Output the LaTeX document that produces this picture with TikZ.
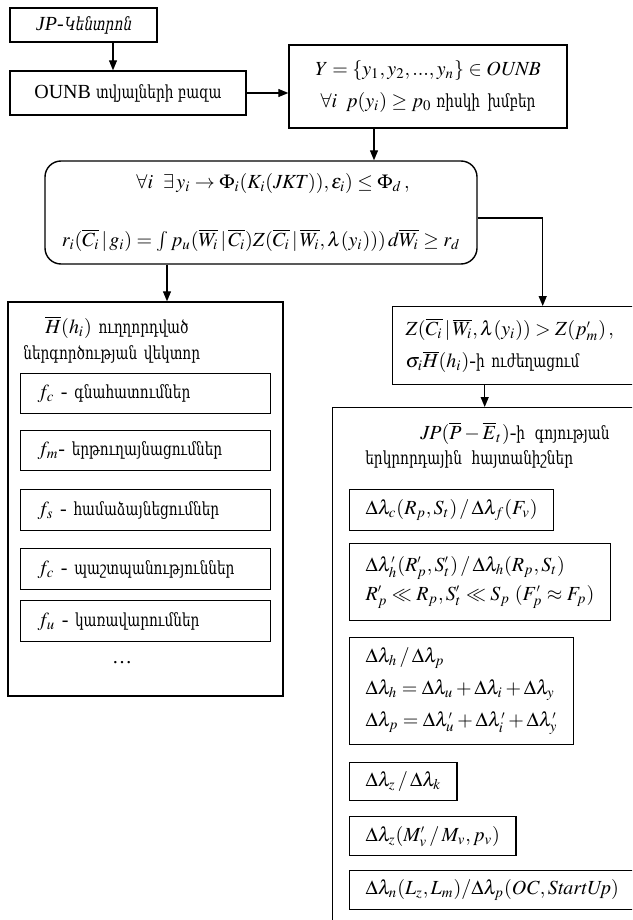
\documentclass[tikz,border=0pt]{standalone}
\usepackage{mathptmx}
\usepackage[no-math]{fontspec}
\setmainfont{Liberation Serif}
\newfontfamily\armfont[Scale=0.9,FakeStretch=0.76]{DejaVu Serif}
\newfontfamily\armitfont[Scale=0.9,FakeStretch=0.76,FakeSlant=0.2]{DejaVu Serif}
\newcommand\tck{^{\scriptscriptstyle\prime}}
\usetikzlibrary{arrows.meta}

\begin{document}
\begin{tikzpicture}[
  x=0.5pt,y=-0.5pt,
  font=\fontsize{10}{12}\selectfont,
  block/.style={rectangle,draw,line width=0.7pt,inner sep=0pt},
  item/.style={block,anchor=north west,align=left,inner xsep=8pt},
  funcbox/.style={item,text width=108pt,minimum height=20pt,inner xsep=8.5pt},
  heading/.style={anchor=west,align=left,inner sep=0pt},
  line/.style={line width=0.6pt,-{Triangle[length=5pt,width=4pt]}}
]
\useasboundingbox (0,0) rectangle (632,920);
\clip (0,0) rectangle (632,920);

% upper chain
\node[block,minimum width=73.5pt,minimum height=17pt] (kentron) at (83.5,25) {\textit{JP-}{\armitfont Կենտրոն}};
\node[block,minimum width=118pt,minimum height=22pt] (ounb) at (128,93) {OUNB {\armfont տվյալների բազա}};
\node[block,minimum width=139pt,minimum height=41.5pt,align=center] (ybox) at (428,86.5)
  {$Y=\{y_1,y_2,...,y_n\}\in \mathit{OUNB}$\\[4pt]$\forall i\;\; p(y_i)\ge p_0$ {\armfont ռիսկի\, խմբեր}};
\node[block,rounded corners=8pt,minimum width=216pt,minimum height=51.5pt,align=center] (cond) at (261,212.5)
  {\hspace*{12pt}$\forall i\ \ \exists\, y_i\to\Phi_i(K_i(\mathit{JKT})),\varepsilon_i)\le\Phi_d\,,$\\[17pt]
   $r_i(\overline{C_i}\,|\,g_i)=\int p_u(\overline{W_i}\,|\,\overline{C_i})Z(\overline{C_i}\,|\,\overline{W_i},\lambda(y_i)))\,d\overline{W_i}\ge r_d$};

% left panel
\node[block,minimum width=137.5pt,minimum height=197pt] (vec) at (145.5,499) {};
\node[heading,text width=125pt,font=\fontsize{10}{13}\selectfont] (vectitle) at (23,340)
  {\hspace*{11pt}$\overline{H}(h_i)$ {\armfont ուղղորդված}\\{\armfont ներգործության վեկտոր}};
\node[funcbox] (fc) at (20,373) {$f_c$ - {\armfont գնահատումներ}};
\node[funcbox] (fm) at (20,430) {$f_m$- {\armfont երթուղայնացումներ}};
\node[funcbox,minimum height=20.5pt] (fs) at (20,489) {$f_s$ - {\armfont համաձայնեցումներ}};
\node[funcbox,minimum height=20.5pt] (fp) at (20,548) {$f_c$ - {\armfont պաշտպանություններ}};
\node[funcbox,minimum height=20.5pt] (fu) at (20,600) {$f_u$ - {\armfont կառավարումներ}};
\node (dots) at (122,663) {\dots};

% right panel
\node[item,text width=111pt,inner xsep=6.5pt,minimum height=39pt] (zbox) at (392,306)
  {$Z(\overline{C_i}\,|\,\overline{W_i},\lambda(y_i))>Z(p\tck_m)\,,$\\[4pt]$\sigma_i\overline{H}(h_i)$-{\armfont ի ուժեղացում}};
\node[block,anchor=north west,minimum width=160pt,minimum height=270pt] (cont) at (332,407) {};
\node[heading,text width=126pt,font=\fontsize{10}{12.5}\selectfont] (conttitle) at (365,445)
  {\hspace*{27.5pt}$\mathit{JP}(\overline{P}-\overline{E}_t)$-{\armfont ի\, գոյության}\\{\armfont երկրորդային\, հայտանիշներ}};
\node[item,minimum height=20.5pt] (d1) at (349,489)
  {$\Delta\lambda_c(R_p,S_t)\,/\,\Delta\lambda_f(F_v)$};
\node[item,minimum height=38.5pt] (d2) at (349,543)
  {$\Delta\lambda\tck_h(R\tck_p,S\tck_t)\,/\,\Delta\lambda_h(R_p,S_t)$\\[2.5pt]$R\tck_p\ll R_p,S\tck_t\ll S_p\ (F\tck_p\approx F_p)$};
\node[item,minimum height=53.5pt] (d3) at (349,637)
  {$\Delta\lambda_h\,/\,\Delta\lambda_p$\\[4pt]$\Delta\lambda_h=\Delta\lambda_u+\Delta\lambda_i+\Delta\lambda_y$\\[4pt]$\Delta\lambda_p=\Delta\lambda\tck_u+\Delta\lambda\tck_i+\Delta\lambda\tck_y$};
\node[item,minimum height=19pt] (d4) at (349,762)
  {$\Delta\lambda_z\,/\,\Delta\lambda_k$};
\node[item,minimum height=19.5pt] (d5) at (349,816)
  {$\Delta\lambda_z(M\tck_v\,/\,M_v,p_v)$};
\node[item,minimum height=19.5pt] (d6) at (349,870)
  {$\Delta\lambda_n(L_z,L_m)/\Delta\lambda_p(\mathit{OC},\mathit{StartUp})$};

% connectors
\coordinate (k1) at ([xshift=14.75pt]kentron.south);
\draw[line] (k1) -- (k1 |- ounb.north);
\draw[line] (ounb.east) -- (ounb.east -| ybox.west);
\coordinate (y1) at ([xshift=-27pt]ybox.south);
\draw[line] (y1) -- (y1 |- cond.north);
\coordinate (c1) at ([xshift=-47pt]cond.south);
\draw[line] (c1) -- (c1 |- vec.north);
\coordinate (z1) at ([xshift=13pt]zbox.north);
\draw[line] ([yshift=-2.75pt]cond.east) -| (z1);
\coordinate (z2) at ([xshift=-16pt]zbox.south);
\draw[line] (z2) -- (z2 |- cont.north);

\end{tikzpicture}
\end{document}
